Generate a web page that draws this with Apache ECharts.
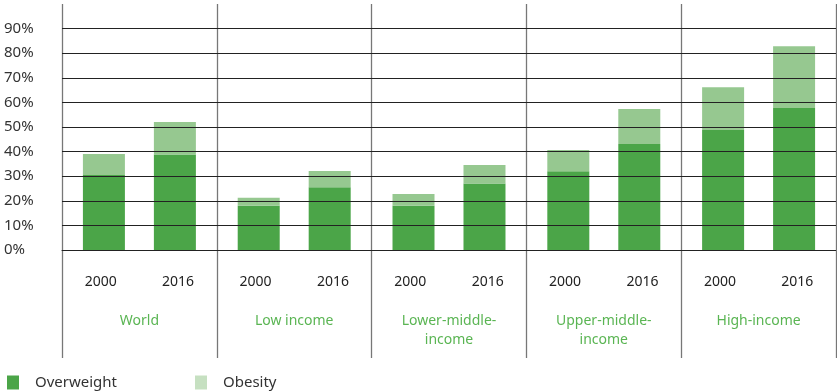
<!DOCTYPE html>
<html>
<head>
<meta charset="utf-8">
<script src="https://cdn.jsdelivr.net/npm/echarts@6/dist/echarts.min.js"></script>
<style>
  html, body { margin: 0; padding: 0; background: #fff; }
  #main { width: 837px; height: 392px; }
</style>
</head>
<body>
<div id="main"></div>
<script>
// groups and years
var groups = ['World', 'Low income', 'Lower-middle-\nincome', 'Upper-middle-\nincome', 'High-income'];
var years = ['2000', '2016', '2000', '2016', '2000', '2016', '2000', '2016', '2000', '2016'];

// % of adults (obesity stacked on top of overweight)
var overweight2000 = [30.5, 18.0, 18.0, 32.0, 48.8];
var obesity2000    = [8.5, 3.2, 4.8, 8.7, 17.4];
var overweight2016 = [38.8, 25.5, 27.0, 43.1, 57.7];
var obesity2016    = [13.2, 6.6, 7.6, 14.2, 25.1];

var darkGreen = '#4ba548';
var lightGreen = '#96c890';
var fontFam = '"Noto Sans", sans-serif';

var myChart = echarts.init(document.getElementById('main'));

myChart.setOption({
    animation: false,
    textStyle: { fontFamily: fontFam },
    grid: { left: 62, right: 1, top: 4, bottom: 142 },
    legend: [
        {
            left: 7, top: 375, padding: 0,
            itemWidth: 12, itemHeight: 14,
            icon: 'rect',
            selectedMode: false,
            textStyle: { fontSize: 15, color: '#333', padding: [0, 0, 0, 11], fontFamily: fontFam },
            data: [{ name: 'Overweight', itemStyle: { color: darkGreen } }]
        },
        {
            left: 195, top: 375, padding: 0,
            itemWidth: 12, itemHeight: 14,
            icon: 'rect',
            selectedMode: false,
            textStyle: { fontSize: 15, color: '#333', padding: [0, 0, 0, 11], fontFamily: fontFam },
            data: [{ name: 'Obesity', itemStyle: { color: '#c6e0c1' } }]
        }
    ],
    xAxis: [
        {
            type: 'category',
            data: groups,
            axisLine: { show: true, lineStyle: { color: '#222', width: 1 } },
            axisTick: { show: true, interval: 0, length: 108, lineStyle: { color: '#777', width: 1.3 } },
            splitLine: { show: true, interval: 0, lineStyle: { color: '#777', width: 1.3 } },
            axisLabel: {
                interval: 0,
                margin: 62,
                color: '#5ab553',
                fontSize: 14,
                lineHeight: 19,
                verticalAlign: 'top',
                fontFamily: fontFam
            }
        },
        {
            type: 'category',
            data: years,
            position: 'bottom',
            axisLine: { show: false },
            axisTick: { show: false },
            splitLine: { show: false },
            axisLabel: {
                interval: 0,
                margin: 25,
                color: '#222',
                fontSize: 14,
                verticalAlign: 'top',
                fontFamily: fontFam
            }
        }
    ],
    yAxis: {
        type: 'value',
        min: 0,
        max: 100,
        interval: 10,
        z: 5,
        axisLine: { show: false },
        axisTick: { show: false },
        splitLine: { show: true, showMaxLine: false, lineStyle: { color: '#222', width: 1 } },
        axisLabel: {
            margin: 58,
            align: 'left',
            color: '#333',
            fontSize: 15,
            fontFamily: fontFam,
            formatter: function (v) { return v === 100 ? '' : v + '%'; }
        }
    },
    series: [
        {
            name: 'Overweight', type: 'bar', stack: 'y2000',
            barWidth: 42, barGap: '69%',
            itemStyle: { color: darkGreen },
            data: overweight2000
        },
        {
            name: 'Obesity', type: 'bar', stack: 'y2000',
            barWidth: 42, barGap: '69%',
            itemStyle: { color: lightGreen },
            data: obesity2000
        },
        {
            name: 'Overweight', type: 'bar', stack: 'y2016',
            barWidth: 42, barGap: '69%',
            itemStyle: { color: darkGreen },
            data: overweight2016
        },
        {
            name: 'Obesity', type: 'bar', stack: 'y2016',
            barWidth: 42, barGap: '69%',
            itemStyle: { color: lightGreen },
            data: obesity2016
        }
    ]
});
</script>
</body>
</html>
